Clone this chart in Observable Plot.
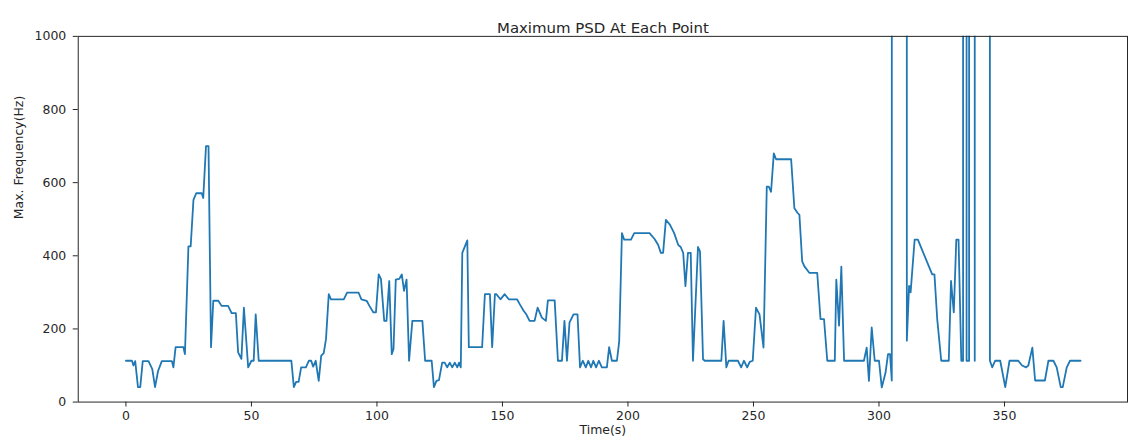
<!DOCTYPE html>
<html><head><meta charset="utf-8">
<script src="https://cdn.jsdelivr.net/npm/d3@7"></script>
<script src="https://cdn.jsdelivr.net/npm/@observablehq/plot@0.6"></script>
<style>
html,body{margin:0;padding:0;background:#fff;overflow:hidden;width:1129px;height:444px}
#chart svg{display:block}
</style></head><body><div id="chart"></div>
<script>
const title = "Maximum PSD At Each Point";
const xLabel = "Time(s)";
const yLabel = "Max. Frequency(Hz)";
const xTicks = [0, 50, 100, 150, 200, 250, 300, 350];
const yTicks = [0, 200, 400, 600, 800, 1000];

const time = [
  0, 2.4, 3, 3.7, 4.8, 5.7, 6.7, 9, 10.5, 11.6, 12.8, 14.3, 18.3, 18.9, 19.8, 22.9, 23.5,
  24.9, 25.8, 26.9, 28, 30.2, 30.8, 31.9, 32.9, 33.9, 34.8, 36.8, 38.1, 40.7, 42.1, 43.8,
  44.7, 46, 47, 48.7, 50, 50.9, 51.7, 52.9, 65.9, 66.9, 67.8, 68.8, 69.8, 71.7, 72.9, 73.8,
  74.6, 75.6, 76.8, 77.8, 78.8, 79.7, 80.8, 81.7, 86.8, 88.1, 92.7, 93.8, 95.9, 97, 98.6,
  99.6, 100.7, 101.6, 102.9, 103.8, 104.9, 105.9, 106.6, 107.5, 108.9, 109.9, 110.8, 111.8,
  112.8, 114.1, 118.1, 119.2, 121.8, 122.7, 123.7, 124.7, 126, 127, 128, 129, 130, 131, 132,
  132.7, 133.4, 134, 136, 136.6, 141.9, 143, 145, 145.9, 147, 147.6, 149.2, 150.9, 152.5,
  155.8, 157.1, 158.5, 159.5, 160.8, 162.8, 164, 165.7, 167.3, 168.1, 170.8, 172.1, 173.7,
  174.7, 175.7, 176.7, 178.3, 179.9, 180.9, 182, 183.2, 184.2, 185.3, 186.2, 187.3, 188.4,
  189.6, 191.6, 192.5, 193.6, 195.6, 196.5, 197.6, 198.5, 201.2, 202.5, 208.6, 210.6, 212,
  213.1, 214, 215.1, 216.7, 218.4, 220, 221, 222, 222.9, 223.9, 225, 225.9, 227.9, 228.7,
  229.9, 230.6, 237.2, 238.1, 239.2, 240.1, 243.8, 245.1, 246.2, 247.5, 248.5, 249.7, 251,
  252.4, 254, 255.3, 256.1, 257, 258.1, 259, 265, 266.3, 267.6, 268.3, 269.4, 270.3, 272.3,
  275.4, 276.7, 278.1, 279.4, 282.4, 283, 284.1, 285, 286.1, 294, 295.1, 296, 297.1, 298.3,
  300, 301.1, 302.6, 303.6, 304.4, 305.1, 305.4, 310.8, 311.1, 312, 312.6, 314.2, 315.5,
  321.2, 322.1, 323.2, 324.8, 327.8, 328.7, 329.8, 330.8, 331.7, 332.8, 333.5, 333.7, 334.7,
  334.9, 335.9, 336.1, 338, 338.15, 338.3, 343.9, 344.2, 345.1, 346.3, 348.3, 350.3, 352,
  355.5, 357, 358.6, 359.5, 361.1, 362.2, 366.1, 367.5, 369.5, 370.8, 372.4, 373.2, 374.8,
  376.1, 380.3
];
const freq = [
  113, 113, 100, 112, 41, 41, 112, 112, 90, 41, 85, 112, 112, 95, 150, 150, 131,
  426, 426, 553, 571, 571, 558, 700, 700, 150, 277, 277, 263, 263, 243, 243,
  136, 118, 258, 95, 113, 113, 240, 113, 113, 41, 55, 55, 95, 95, 113, 113,
  97, 113, 58, 127, 134, 172, 295, 281, 281, 299, 299, 281, 277, 263, 245,
  245, 349, 337, 222, 222, 331, 131, 145, 335, 337, 349, 304, 335,
  113, 222, 222, 113, 113, 41, 58, 60, 108, 108, 95, 108, 95, 108, 95,
  108, 95, 408, 442, 150, 150, 295, 295, 150, 295, 295, 281, 295, 281,
  281, 265, 249, 240, 222, 222, 258, 231, 222, 278, 278, 113, 113,
  222, 113, 217, 240, 240, 95, 113, 95, 113, 95, 113, 95, 113,
  95, 95, 150, 113, 113, 165, 462, 444, 444, 462, 462, 446, 430,
  408, 408, 498, 485, 462, 430, 424, 408, 317, 408, 408, 113, 424, 412,
  117, 113, 113, 222, 95, 113, 113, 95, 113, 95, 110, 113, 258,
  240, 149, 589, 589, 575, 680, 664, 664, 530, 517, 512, 385, 371, 353,
  353, 227, 227, 113, 113, 335, 209, 370, 113, 113, 149, 58, 204, 113,
  113, 40, 80, 131, 131, 59, 20000, 20000, 168, 318, 300, 444, 444,
  349, 349, 227, 113, 113, 331, 245, 444, 444, 113, 113, 20000, 20000,
  113, 113, 20000, 20000, 113, 20000, 20000, 113, 95, 113, 113, 41, 113,
  113, 100, 95, 100, 149, 59, 59, 113, 113, 95, 41, 41, 95,
  113, 113
];

const data = time.map((t, i) => ({t, f: freq[i]}));
const ink = "#262626";

const chart = Plot.plot({
  width: 1133,
  height: 444,
  marginLeft: 78,
  marginRight: 2,
  marginTop: 36,
  marginBottom: 41,
  style: {fontFamily: "'DejaVu Sans', sans-serif", fontSize: "12.5px", color: ink, background: "#fff", overflow: "visible"},
  x: {domain: [-19, 399]},
  y: {domain: [0, 1000]},
  marks: [
    Plot.lineY(data, {x: "t", y: "f", stroke: "#1f77b4", strokeWidth: 1.8, clip: true}),
    Plot.frame({stroke: ink, strokeWidth: 1}),
    Plot.axisX({ticks: xTicks, tickSize: 5, tickPadding: 4, label: null, tickFormat: d => String(d)}),
    Plot.axisY({ticks: yTicks, tickSize: 5, tickPadding: 7, label: null, tickFormat: d => String(d)}),
    Plot.text([title], {frameAnchor: "top", dy: -14, fontSize: 15, fill: ink}),
    Plot.text([xLabel], {frameAnchor: "bottom", dy: 32, fontSize: 12.5, fill: ink}),
    Plot.text([yLabel], {frameAnchor: "left", dx: -59, rotate: -90, fontSize: 12.5, fill: ink})
  ]
});
document.getElementById("chart").appendChild(chart);
</script>
</body></html>
